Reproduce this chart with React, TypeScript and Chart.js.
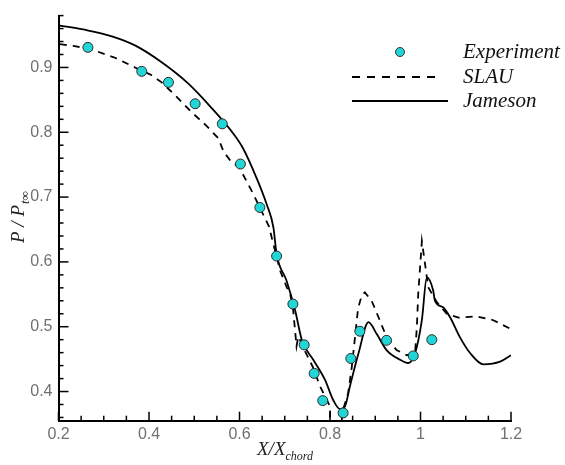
import React, { useEffect, useRef } from 'react';
import { Chart, registerables } from 'chart.js';
Chart.register(...registerables);

// Experiment data
const expX = [0.265, 0.384, 0.443, 0.502, 0.562, 0.602, 0.645, 0.682, 0.718, 0.743, 0.765, 0.784, 0.829, 0.846, 0.866, 0.925, 0.984, 1.025];
const expY = [0.931, 0.894, 0.877, 0.844, 0.813, 0.751, 0.684, 0.609, 0.535, 0.472, 0.428, 0.386, 0.367, 0.451, 0.493, 0.479, 0.455, 0.480];

// SLAU (dashed)
const slauX = [0.203, 0.236, 0.28, 0.325, 0.369, 0.406, 0.428, 0.458, 0.494, 0.524, 0.553, 0.565, 0.58, 0.60, 0.616, 0.631, 0.649, 0.665, 0.675, 0.690, 0.705, 0.712, 0.718, 0.722, 0.726, 0.73, 0.745, 0.762, 0.778, 0.793, 0.800, 0.801, 0.822, 0.828, 0.840, 0.848, 0.855, 0.862, 0.870, 0.877, 0.892, 0.907, 0.925, 0.947, 0.970, 0.988, 0.992, 0.995, 0.999, 1.003, 1.010, 1.017, 1.036, 1.058, 1.084, 1.124, 1.161, 1.198];
const slauY = [0.936, 0.933, 0.926, 0.915, 0.900, 0.888, 0.877, 0.857, 0.831, 0.812, 0.791, 0.770, 0.756, 0.745, 0.724, 0.704, 0.678, 0.655, 0.627, 0.586, 0.560, 0.550, 0.530, 0.500, 0.470, 0.485, 0.462, 0.438, 0.408, 0.387, 0.377, 0.330, 0.330, 0.370, 0.397, 0.437, 0.482, 0.528, 0.548, 0.553, 0.540, 0.515, 0.484, 0.464, 0.456, 0.459, 0.500, 0.551, 0.591, 0.632, 0.597, 0.561, 0.538, 0.520, 0.514, 0.516, 0.510, 0.497];

// Jameson (solid)
const jamX = [0.2, 0.266, 0.318, 0.369, 0.428, 0.487, 0.539, 0.583, 0.608, 0.638, 0.660, 0.675, 0.682, 0.704, 0.723, 0.738, 0.763, 0.789, 0.807, 0.822, 0.833, 0.844, 0.863, 0.885, 0.903, 0.925, 0.955, 0.973, 0.988, 1.003, 1.014, 1.028, 1.032, 1.050, 1.065, 1.087, 1.110, 1.139, 1.176, 1.2];
const jamY = [0.965, 0.957, 0.948, 0.934, 0.908, 0.875, 0.837, 0.801, 0.775, 0.729, 0.689, 0.653, 0.612, 0.571, 0.525, 0.479, 0.449, 0.418, 0.387, 0.373, 0.377, 0.408, 0.459, 0.507, 0.489, 0.464, 0.449, 0.444, 0.459, 0.510, 0.576, 0.556, 0.540, 0.530, 0.515, 0.484, 0.459, 0.442, 0.446, 0.456];

const xTickValues = [0.2, 0.4, 0.6, 0.8, 1.0, 1.2];
const yTickValues = [0.4, 0.5, 0.6, 0.7, 0.8, 0.9];

const X_MIN = 0.2, X_MAX = 1.2, Y_MIN = 0.355, Y_MAX = 0.98;
const CYAN = '#22d6d8';

const toPts = (xs: number[], ys: number[]) => xs.map((x, i) => ({ x, y: ys[i] }));

const decor = {
  id: 'decor',
  beforeDatasetsDraw(chart: any) {
    const { ctx, chartArea, scales } = chart;
    const x = scales.x, y = scales.y;
    ctx.save();
    ctx.strokeStyle = '#000';
    ctx.lineWidth = 1.5;
    for (let i = 0; i <= 20; i++) {
      const v = X_MIN + i * 0.05;
      const px = x.getPixelForValue(v);
      const major = i % 4 === 0;
      const len = major ? 9 : 5;
      ctx.beginPath();
      ctx.moveTo(px, chartArea.bottom);
      ctx.lineTo(px, chartArea.bottom - len);
      ctx.stroke();
    }
    for (let i = 0; i <= 31; i++) {
      const v = 0.36 + i * 0.02;
      const py = y.getPixelForValue(v);
      const major = (i - 2) % 5 === 0;
      const len = major ? 10 : 5;
      ctx.beginPath();
      ctx.moveTo(chartArea.left, py);
      ctx.lineTo(chartArea.left + len, py);
      ctx.stroke();
    }
    ctx.restore();
  },
  afterDraw(chart: any) {
    const { ctx } = chart;
    ctx.save();
    // legend
    ctx.fillStyle = '#111';
    ctx.font = 'italic 21px "Liberation Serif"';
    ctx.textBaseline = 'middle';
    ctx.textAlign = 'left';
    ctx.fillText('Experiment', 463, 52);
    ctx.fillText('SLAU', 463, 77);
    ctx.fillText('Jameson', 463, 101);
    ctx.beginPath();
    ctx.arc(400, 52, 4.5, 0, Math.PI * 2);
    ctx.fillStyle = CYAN;
    ctx.fill();
    ctx.strokeStyle = '#333';
    ctx.lineWidth = 1;
    ctx.stroke();
    ctx.strokeStyle = '#000';
    ctx.lineWidth = 1.8;
    ctx.setLineDash([8, 7]);
    ctx.beginPath();
    ctx.moveTo(352, 77);
    ctx.lineTo(440, 77);
    ctx.stroke();
    ctx.setLineDash([]);
    ctx.beginPath();
    ctx.moveTo(352, 101);
    ctx.lineTo(448, 101);
    ctx.stroke();

    // x axis title
    ctx.fillStyle = '#222';
    ctx.textBaseline = 'alphabetic';
    ctx.font = 'italic 19px "Liberation Serif"';
    ctx.fillText('X/X', 257, 455);
    const w1 = ctx.measureText('X/X').width;
    ctx.font = 'italic 12px "Liberation Serif"';
    ctx.fillText('chord', 257 + w1, 460);

    // y axis title
    ctx.translate(24, 243);
    ctx.rotate(-Math.PI / 2);
    ctx.font = 'italic 19px "Liberation Serif"';
    ctx.fillText('P / P', 0, 0);
    const w2 = ctx.measureText('P / P').width;
    ctx.font = 'italic 13px "Liberation Serif"';
    ctx.fillText('t∞', w2 + 1, 5);
    ctx.restore();
  },
};

export default function App() {
  const ref = useRef<HTMLCanvasElement>(null);
  useEffect(() => {
    if (!ref.current) return;
    const chart = new Chart(ref.current, {
      type: 'line',
      data: {
        datasets: [
          {
            type: 'scatter',
            label: 'Experiment',
            data: toPts(expX, expY),
            pointRadius: 5,
            pointBackgroundColor: CYAN,
            pointBorderColor: '#2a2a2a',
            pointBorderWidth: 1,
            showLine: false,
          } as any,
          {
            label: 'SLAU',
            data: toPts(slauX, slauY),
            borderColor: '#000',
            borderWidth: 1.8,
            borderDash: [7, 6],
            pointRadius: 0,
            fill: false,
            tension: 0,
          },
          {
            label: 'Jameson',
            data: toPts(jamX, jamY),
            borderColor: '#000',
            borderWidth: 1.8,
            pointRadius: 0,
            fill: false,
            cubicInterpolationMode: 'monotone',
          },
        ],
      },
      options: {
        animation: false,
        responsive: false,
        devicePixelRatio: 1,
        layout: { padding: { top: 13, right: 54, left: 0, bottom: 0 } },
        plugins: { legend: { display: false }, tooltip: { enabled: false } },
        scales: {
          x: {
            type: 'linear',
            min: X_MIN,
            max: X_MAX,
            afterBuildTicks: (s: any) => { s.ticks = xTickValues.map((v) => ({ value: v })); },
            afterFit: (s: any) => { s.height = 44.3; },
            grid: { display: false, drawTicks: false },
            border: { display: true, color: '#000', width: 2 },
            ticks: {
              color: '#707070',
              font: { family: '"Liberation Sans", Arial', size: 16 },
              padding: 4,
              maxRotation: 0,
              callback: (v: any) => String(Number(Number(v).toFixed(2))),
            },
          },
          y: {
            type: 'linear',
            min: Y_MIN,
            max: Y_MAX,
            afterBuildTicks: (s: any) => { s.ticks = yTickValues.map((v) => ({ value: v })); },
            afterFit: (s: any) => { s.width = 58.5; },
            grid: { display: false, drawTicks: false },
            border: { display: true, color: '#000', width: 2 },
            ticks: {
              color: '#707070',
              font: { family: '"Liberation Sans", Arial', size: 16 },
              padding: 6,
              callback: (v: any) => String(Number(Number(v).toFixed(2))),
            },
          },
        },
      },
      plugins: [decor],
    });
    return () => chart.destroy();
  }, []);
  return (
    <div style={{ position: 'absolute', left: 0, top: 0, width: 565, height: 465, background: '#fff' }}>
      <canvas ref={ref} width={565} height={465} />
    </div>
  );
}
